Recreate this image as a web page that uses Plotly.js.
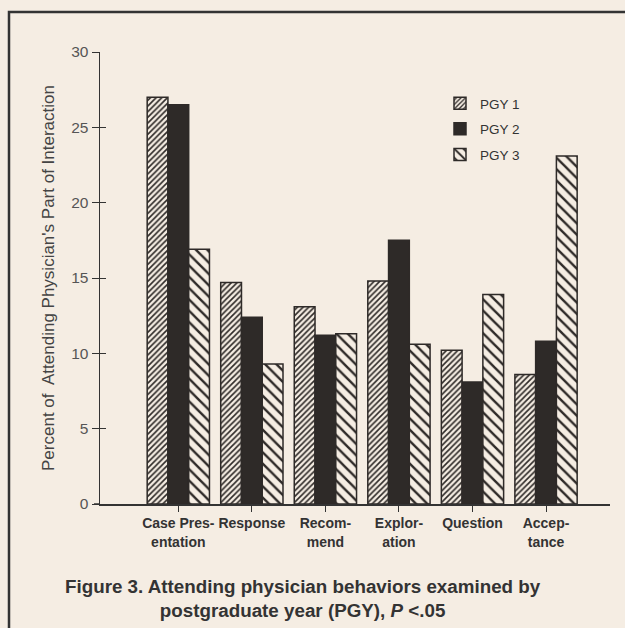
<!DOCTYPE html>
<html>
<head>
<meta charset="utf-8">
<script src="https://cdn.plot.ly/plotly-3.0.1.min.js"></script>
<style>
html,body{margin:0;padding:0;background:#f5ede3;}
#chart{width:625px;height:628px;}
</style>
</head>
<body>
<div id="chart"></div>
<script>
const categories = ["Case Pres-<br>entation", "Response", "Recom-<br>mend", "Explor-<br>ation", "Question", "Accep-<br>tance"];
const seriesNames = ["PGY 1", "PGY 2", "PGY 3"];
const pgy1 = [27.0, 14.7, 13.1, 14.8, 10.2, 8.6];
const pgy2 = [26.5, 12.4, 11.2, 17.5, 8.1, 10.8];
const pgy3 = [16.9, 9.3, 11.3, 10.6, 13.9, 23.1];
const yTicks = [0, 5, 10, 15, 20, 25, 30];

const bg = '#f5ede3';
const ink = '#2e2a28';
const xIdx = categories.map((c, i) => i);

const traces = [
  {type:'bar', name:seriesNames[0], x:xIdx, y:pgy1, legendgroup:'a',
   marker:{color:bg, line:{color:ink, width:1.5},
     pattern:{shape:'/', size:4, solidity:0.4, fgcolor:ink, bgcolor:bg, fillmode:'replace'}}},
  {type:'bar', name:seriesNames[1], x:xIdx, y:pgy2, legendgroup:'b',
   marker:{color:ink, line:{color:ink, width:1.5}}},
  {type:'bar', name:seriesNames[2], x:xIdx, y:pgy3, legendgroup:'c',
   marker:{color:bg, line:{color:ink, width:1.5},
     pattern:{shape:'\\', size:8, solidity:0.3, fgcolor:ink, bgcolor:bg, fillmode:'replace'}}},
  {type:'scatter', x:[0], y:[0], yaxis:'y2', mode:'markers', marker:{opacity:0}, showlegend:false, hoverinfo:'skip'}
];

const pb = 504, pt = 52, pl = 100, pr = 610;
const H = pb - pt, W = pr - pl;
function px(x){ return (x - pl) / W; }
function py(y){ return (pb - y) / H; }

const layout = {
  width:625, height:628,
  paper_bgcolor:bg, plot_bgcolor:bg,
  margin:{l:pl, r:625-pr, t:pt, b:628-pb, pad:0},
  font:{family:'"Liberation Sans", Arial, sans-serif', color:'#333'},
  barmode:'group', bargap:0.153, bargroupgap:0,
  showlegend:true,
  legend:{x:px(440), y:py(88), xanchor:'left', yanchor:'top', bgcolor:'rgba(0,0,0,0)',
    font:{size:13.5, color:'#333'}, traceorder:'grouped', tracegroupgap:5},
  xaxis:{range:[-1.065, 5.87], tickmode:'array', tickvals:xIdx, ticktext:categories,
    showline:true, linecolor:'#333', linewidth:1.5, ticks:'outside', ticklen:6, tickcolor:'#333',
    showgrid:false, zeroline:false, fixedrange:true,
    tickfont:{size:14, color:'#333', family:'"Liberation Sans", Arial, sans-serif', weight:'bold'}},
  yaxis:{range:[0, 30], tickmode:'array', tickvals:yTicks, showline:true, linecolor:'#333', linewidth:1.5,
    ticks:'outside', ticklen:7, tickcolor:'#333', showgrid:false, zeroline:false,
    tickfont:{size:15.5, color:'#555'},
    title:{text:"Percent of  Attending Physician's Part of Interaction", font:{size:17, color:'#444'}, standoff:12}},
  yaxis2:{range:[0, 30], overlaying:'y', side:'left', tickmode:'array', tickvals:yTicks,
    ticks:'inside', ticklen:6, tickcolor:'#333', showticklabels:false, showline:false,
    showgrid:false, zeroline:false},
  shapes:[
    {type:'line', xref:'paper', yref:'paper', x0:px(94), x1:0, y0:0, y1:0, line:{color:'#333', width:1.5}},
    {type:'rect', xref:'paper', yref:'paper', x0:px(9), x1:px(640), y0:py(12), y1:py(650),
     line:{color:'#333', width:2.5}, fillcolor:'rgba(0,0,0,0)'}
  ],
  annotations:[
    {xref:'paper', yref:'paper', x:px(303), y:py(598), xanchor:'center', yanchor:'middle', showarrow:false,
     text:'Figure 3. Attending physician behaviors examined by<br>postgraduate year (PGY), <i>P</i> &lt;.05',
     font:{size:18.8, color:'#333', weight:'bold'}}
  ]
};

Plotly.newPlot('chart', traces, layout, {displayModeBar:false, staticPlot:true});
</script>
</body>
</html>
